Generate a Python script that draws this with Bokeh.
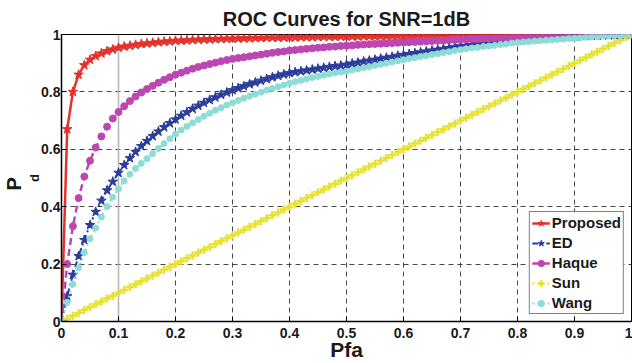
from bokeh.plotting import figure
from bokeh.models import FixedTicker, Span, Legend, LegendItem, Range1d, Title
from bokeh.embed import file_html
from bokeh.resources import INLINE

# ---------------- data ----------------
pfa = [0.00, 0.01, 0.02, 0.03, 0.04, 0.05, 0.06, 0.07, 0.08, 0.09,
       0.10, 0.11, 0.12, 0.13, 0.14, 0.15, 0.16, 0.17, 0.18, 0.19,
       0.20, 0.21, 0.22, 0.23, 0.24, 0.25, 0.26, 0.27, 0.28, 0.29,
       0.30, 0.31, 0.32, 0.33, 0.34, 0.35, 0.36, 0.37, 0.38, 0.39,
       0.40, 0.41, 0.42, 0.43, 0.44, 0.45, 0.46, 0.47, 0.48, 0.49,
       0.50, 0.51, 0.52, 0.53, 0.54, 0.55, 0.56, 0.57, 0.58, 0.59,
       0.60, 0.61, 0.62, 0.63, 0.64, 0.65, 0.66, 0.67, 0.68, 0.69,
       0.70, 0.71, 0.72, 0.73, 0.74, 0.75, 0.76, 0.77, 0.78, 0.79,
       0.80, 0.81, 0.82, 0.83, 0.84, 0.85, 0.86, 0.87, 0.88, 0.89,
       0.90, 0.91, 0.92, 0.93, 0.94, 0.95, 0.96, 0.97, 0.98, 0.99, 1.00]

proposed = [0.000, 0.670, 0.800, 0.860, 0.893, 0.912, 0.925, 0.934, 0.942, 0.948,
            0.954, 0.958, 0.961, 0.964, 0.967, 0.969, 0.971, 0.973, 0.975, 0.976,
            0.978, 0.979, 0.980, 0.981, 0.982, 0.983, 0.983, 0.984, 0.985, 0.985,
            0.986, 0.986, 0.987, 0.987, 0.988, 0.988, 0.989, 0.989, 0.989, 0.990,
            0.990, 0.990, 0.991, 0.991, 0.991, 0.992, 0.992, 0.992, 0.992, 0.993,
            0.993, 0.993, 0.993, 0.994, 0.994, 0.994, 0.994, 0.994, 0.995, 0.995,
            0.995, 0.995, 0.995, 0.996, 0.996, 0.996, 0.996, 0.996, 0.996, 0.997,
            0.997, 0.997, 0.997, 0.997, 0.997, 0.997, 0.998, 0.998, 0.998, 0.998,
            0.998, 0.998, 0.998, 0.998, 0.999, 0.999, 0.999, 0.999, 0.999, 0.999,
            0.999, 0.999, 0.999, 0.999, 0.999, 1.000, 1.000, 1.000, 1.000, 1.000, 1.000]

ed = [0.000, 0.088, 0.163, 0.228, 0.284, 0.336, 0.382, 0.421, 0.457, 0.487,
      0.518, 0.545, 0.569, 0.591, 0.611, 0.629, 0.646, 0.662, 0.677, 0.691,
      0.704, 0.717, 0.729, 0.741, 0.752, 0.762, 0.772, 0.781, 0.790, 0.798,
      0.806, 0.813, 0.820, 0.827, 0.833, 0.839, 0.845, 0.851, 0.856, 0.861,
      0.866, 0.869, 0.872, 0.875, 0.878, 0.881, 0.884, 0.887, 0.890, 0.892,
      0.895, 0.899, 0.902, 0.906, 0.909, 0.912, 0.916, 0.919, 0.922, 0.926,
      0.929, 0.932, 0.935, 0.938, 0.941, 0.944, 0.947, 0.950, 0.953, 0.956,
      0.959, 0.961, 0.964, 0.966, 0.968, 0.970, 0.972, 0.974, 0.976, 0.978,
      0.980, 0.982, 0.984, 0.985, 0.987, 0.988, 0.990, 0.991, 0.992, 0.993,
      0.994, 0.995, 0.996, 0.996, 0.997, 0.997, 0.998, 0.998, 0.999, 0.999, 1.000]

haque = [0.000, 0.200, 0.332, 0.430, 0.505, 0.560, 0.606, 0.645, 0.679, 0.707,
         0.730, 0.750, 0.768, 0.784, 0.798, 0.810, 0.821, 0.832, 0.842, 0.851,
         0.860, 0.867, 0.874, 0.881, 0.887, 0.892, 0.897, 0.902, 0.907, 0.911,
         0.915, 0.918, 0.921, 0.924, 0.927, 0.930, 0.933, 0.936, 0.939, 0.941,
         0.944, 0.946, 0.948, 0.950, 0.952, 0.954, 0.955, 0.957, 0.958, 0.960,
         0.961, 0.962, 0.964, 0.965, 0.966, 0.967, 0.968, 0.969, 0.970, 0.971,
         0.972, 0.973, 0.974, 0.975, 0.976, 0.977, 0.978, 0.979, 0.980, 0.981,
         0.982, 0.983, 0.984, 0.984, 0.985, 0.986, 0.987, 0.987, 0.988, 0.989,
         0.989, 0.990, 0.991, 0.991, 0.992, 0.993, 0.993, 0.994, 0.994, 0.995,
         0.995, 0.996, 0.996, 0.997, 0.997, 0.998, 0.998, 0.999, 0.999, 1.000, 1.000]

sun = [0.00, 0.01, 0.02, 0.03, 0.04, 0.05, 0.06, 0.07, 0.08, 0.09,
       0.10, 0.11, 0.12, 0.13, 0.14, 0.15, 0.16, 0.17, 0.18, 0.19,
       0.20, 0.21, 0.22, 0.23, 0.24, 0.25, 0.26, 0.27, 0.28, 0.29,
       0.30, 0.31, 0.32, 0.33, 0.34, 0.35, 0.36, 0.37, 0.38, 0.39,
       0.40, 0.41, 0.42, 0.43, 0.44, 0.45, 0.46, 0.47, 0.48, 0.49,
       0.50, 0.51, 0.52, 0.53, 0.54, 0.55, 0.56, 0.57, 0.58, 0.59,
       0.60, 0.61, 0.62, 0.63, 0.64, 0.65, 0.66, 0.67, 0.68, 0.69,
       0.70, 0.71, 0.72, 0.73, 0.74, 0.75, 0.76, 0.77, 0.78, 0.79,
       0.80, 0.81, 0.82, 0.83, 0.84, 0.85, 0.86, 0.87, 0.88, 0.89,
       0.90, 0.91, 0.92, 0.93, 0.94, 0.95, 0.96, 0.97, 0.98, 0.99, 1.00]

wang = [0.000, 0.067, 0.130, 0.187, 0.240, 0.288, 0.326, 0.364, 0.400, 0.433,
        0.462, 0.490, 0.513, 0.533, 0.551, 0.567, 0.585, 0.603, 0.620, 0.637,
        0.653, 0.667, 0.680, 0.692, 0.704, 0.715, 0.726, 0.736, 0.745, 0.754,
        0.762, 0.770, 0.778, 0.785, 0.792, 0.799, 0.806, 0.812, 0.818, 0.824,
        0.830, 0.835, 0.840, 0.845, 0.850, 0.854, 0.858, 0.862, 0.866, 0.869,
        0.872, 0.876, 0.880, 0.884, 0.888, 0.892, 0.896, 0.900, 0.904, 0.908,
        0.912, 0.916, 0.919, 0.923, 0.926, 0.930, 0.933, 0.937, 0.940, 0.944,
        0.947, 0.950, 0.953, 0.955, 0.958, 0.960, 0.962, 0.965, 0.967, 0.970,
        0.972, 0.974, 0.975, 0.977, 0.978, 0.980, 0.981, 0.983, 0.984, 0.986,
        0.987, 0.988, 0.990, 0.991, 0.992, 0.994, 0.995, 0.996, 0.997, 0.999, 1.000]

x_ticks = [0, 0.1, 0.2, 0.3, 0.4, 0.5, 0.6, 0.7, 0.8, 0.9, 1]
x_tick_labels = ["0", "0.1", "0.2", "0.3", "0.4", "0.5", "0.6", "0.7", "0.8", "0.9", "1"]
y_ticks = [0, 0.2, 0.4, 0.6, 0.8, 1]
y_tick_labels = ["0", "0.2", "0.4", "0.6", "0.8", "1"]

series_names = ["Proposed", "ED", "Haque", "Sun", "Wang"]
series_values = [proposed, ed, haque, sun, wang]

# ---------------- styles ----------------
FONT = "Liberation Sans"
styles = [
    dict(color="#e4312b", dash="solid", marker="star", size=10, lw=2.5, mlw=1, fill=True),
    dict(color="#2c3c9c", dash="6 3 2 3", marker="star", size=10, lw=2.0, mlw=1, fill=True),
    dict(color="#bc46b2", dash="7 4", marker="circle", size=7, lw=2.5, mlw=1, fill=True),
    dict(color="#e6e230", dash="2 3", marker="cross", size=8, lw=2.0, mlw=2.5, fill=False),
    dict(color="#8edcd6", dash="2 3", marker="circle", size=6, lw=2.0, mlw=1, fill=True),
]

p = figure(width=632, height=363, x_range=Range1d(0, 1), y_range=Range1d(0, 1),
           output_backend="svg", toolbar_location=None,
           min_border_left=56, min_border_right=1, min_border_top=33, min_border_bottom=41)

p.title.text = "ROC Curves for SNR=1dB"
p.title.align = "center"
p.title.text_font = FONT
p.title.text_font_size = "20px"
p.title.text_font_style = "bold"
p.title.text_color = "#1a1a1a"
p.title.text_line_height = 0.7

p.outline_line_color = "black"
p.outline_line_width = 1
p.outline_line_alpha = 1

for ax, ticks, labels in ((p.xaxis[0], x_ticks, x_tick_labels), (p.yaxis[0], y_ticks, y_tick_labels)):
    ax.ticker = FixedTicker(ticks=ticks)
    ax.major_label_overrides = {t: l for t, l in zip(ticks, labels)}
    ax.major_tick_in = 5
    ax.major_tick_out = 0
    ax.minor_tick_line_color = None
    ax.axis_line_color = "black"
    ax.axis_line_width = 1.5
    ax.major_tick_line_color = "black"
    ax.major_label_text_font = FONT
    ax.major_label_text_font_size = "14px"
    ax.major_label_text_font_style = "bold"
    ax.major_label_text_color = "#1a1a1a"
p.xaxis.major_label_standoff = 6
p.yaxis.major_label_standoff = 1

p.xaxis.axis_label = "Pfa"
p.xaxis.axis_label_text_font = FONT
p.xaxis.axis_label_text_font_size = "21px"
p.xaxis.axis_label_text_font_style = "bold"
p.xaxis.axis_label_text_color = "#1a1a1a"
p.xaxis.axis_label_standoff = -3

# subscript "d" of the y label as the y axis label, "P" as a left title
p.yaxis.axis_label = "d"
p.yaxis.axis_label_text_font = FONT
p.yaxis.axis_label_text_font_size = "13px"
p.yaxis.axis_label_text_font_style = "bold"
p.yaxis.axis_label_text_color = "#1a1a1a"
p.yaxis.axis_label_standoff = -4

for g, ticks in ((p.xgrid[0], x_ticks), (p.ygrid[0], y_ticks)):
    g.ticker = FixedTicker(ticks=ticks)
    g.grid_line_color = "#333333"
    g.grid_line_dash = "5 4"
    g.grid_line_width = 1
    g.grid_line_alpha = 0.9

p.add_layout(Span(location=0.1, dimension="height", line_color="#b4b4b4", line_width=1.5, level="underlay"))

items = []
for name, vals, st in zip(series_names, series_values, styles):
    lr = p.line(pfa, vals, line_color=st["color"], line_width=st["lw"], line_dash=st["dash"])
    mr = p.scatter(pfa, vals, marker=st["marker"], size=st["size"],
                   line_color=st["color"], line_width=st["mlw"],
                   fill_color=st["color"] if st["fill"] else None)
    items.append(LegendItem(label=name, renderers=[lr, mr]))

legend = Legend(items=items, location="bottom_right")
legend.label_text_font = FONT
legend.label_text_font_size = "15px"
legend.label_text_font_style = "bold"
legend.label_text_color = "#1a1a1a"
legend.glyph_width = 18
legend.glyph_height = 16
legend.label_height = 16
legend.spacing = 3
legend.padding = 2
legend.margin = 7
legend.label_standoff = 2
legend.border_line_color = "black"
legend.border_line_width = 1
legend.background_fill_alpha = 1
p.add_layout(legend)

t_p = Title(text="P", align="left", offset=131, standoff=0,
            text_font=FONT, text_font_size="20px", text_font_style="bold", text_color="#1a1a1a")
p.add_layout(t_p, "left")

open("out.html", "w").write(file_html(p, INLINE))
